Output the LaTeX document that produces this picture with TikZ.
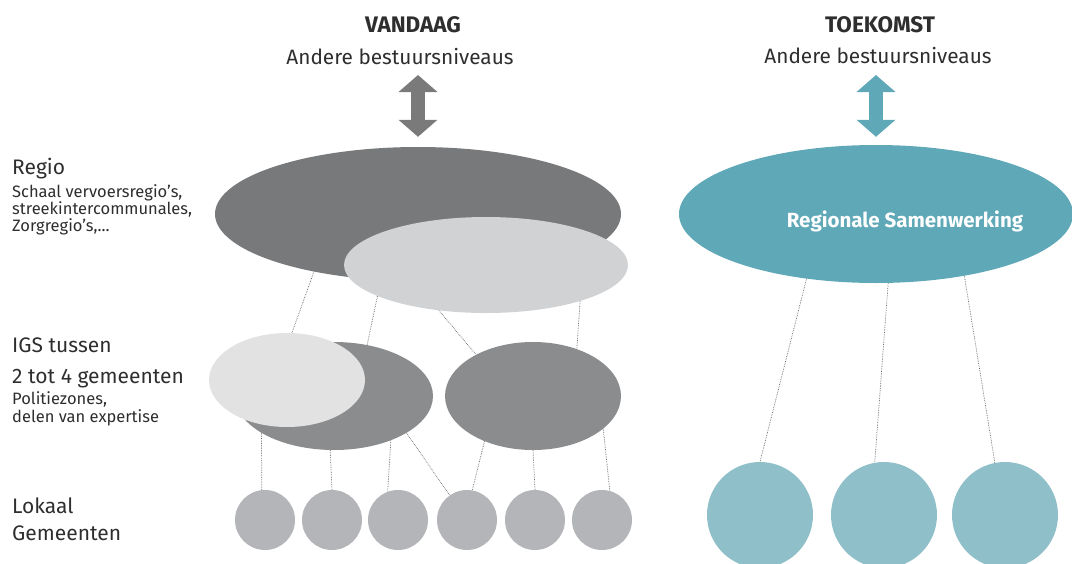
\documentclass[tikz,border=0pt]{standalone}
\usepackage{fontspec}
\setmainfont{Fira Sans}
\usepackage{tikz}
\usetikzlibrary{arrows.meta, positioning, shapes.geometric}

\definecolor{regiodark}{HTML}{77797B}
\definecolor{regiolight}{HTML}{D0D2D4}
\definecolor{igsdark}{HTML}{8A8C8E}
\definecolor{igslight}{HTML}{E2E2E2}
\definecolor{lokaalgray}{HTML}{B4B5B8}
\definecolor{tealdark}{HTML}{5FA8B7}
\definecolor{teallight}{HTML}{8FBFC9}
\definecolor{arrowgray}{HTML}{7A7A7A}
\definecolor{textgray}{HTML}{2E2E2E}

\begin{document}
\begin{tikzpicture}[
    x=1pt, y=-1pt,
    blob/.style={ellipse, inner sep=0pt, draw=none},
    dot/.style={circle, inner sep=0pt, minimum size=60pt, fill=lokaalgray},
    bigdot/.style={circle, inner sep=0pt, minimum size=106pt, fill=teallight},
    link/.style={densely dotted, line width=0.7pt, draw=black!60},
    updown/.style={line width=14pt, {Triangle[width=38pt,length=17pt]}-{Triangle[width=38pt,length=17pt]}},
    head/.style={font=\bfseries\fontsize{22.5}{26}\selectfont, text=textgray, anchor=base, inner sep=0pt},
    sub/.style={font=\fontsize{20.8}{24}\selectfont, text=textgray, anchor=base, inner sep=0pt},
    big/.style={font=\fontsize{21}{24}\selectfont, text=textgray, anchor=base west, inner sep=0pt},
    small/.style={font=\fontsize{16.5}{19}\selectfont, text=textgray, anchor=base west, inner sep=0pt}
]
\useasboundingbox (0,0) rectangle (1072,563);

% headers
\node[head] (vandaag) at (413,32) {VANDAAG};
\node[sub] (andere1) at (400,64) {Andere bestuursniveaus};
\node[head] (toekomst) at (880,32) {TOEKOMST};
\node[sub] (andere2) at (878,63) {Andere bestuursniveaus};

% left labels
\node[big] (regiolbl) at (12,174) {Regio};
\node[small] (regio1) at (12,197) {Schaal vervoersregio’s,};
\node[small] (regio2) at (12,214) {streekintercommunales,};
\node[small] (regio3) at (12,231) {Zorgregio’s,...};
\node[big] (igs1) at (12,352) {IGS tussen};
\node[big] (igs2) at (12,383) {2 tot 4 gemeenten};
\node[small] (igs3) at (12,404) {Politiezones,};
\node[small] (igs4) at (12,422) {delen van expertise};
\node[big] (lok1) at (12,513) {Lokaal};
\node[big] (lok2) at (12,540) {Gemeenten};

% vandaag
\node[blob, fill=regiodark, minimum width=406pt, minimum height=134pt] (regio) at (418,214) {};
\node[blob, fill=regiolight, minimum width=284pt, minimum height=96pt] (regiob) at (486,265) {};
\node[blob, fill=igsdark, minimum width=198pt, minimum height=108pt] (igsa) at (334,396) {};
\node[blob, fill=igslight, minimum width=156pt, minimum height=94pt] (igsb) at (287,380) {};
\node[blob, fill=igsdark, minimum width=176pt, minimum height=108pt] (igsc) at (533,396) {};
\foreach \x [count=\i] in {265,332,398,467,535,602}
    \node[dot] (gem\i) at (\x,520) {};

% toekomst
\node[blob, fill=tealdark, minimum width=394pt, minimum height=138pt] (samen) at (876,214) {};
\node[font=\bfseries\fontsize{20.5}{22}\selectfont, text=white] (samenlbl) at (905,221) {Regionale Samenwerking};
\foreach \x [count=\i] in {760,884,1005}
    \node[bigdot] (toek\i) at (\x,515) {};

% arrows
\draw[updown, arrowgray] ([yshift=-11pt]andere1.base -| regio.north) -- ([yshift=10pt]regio.north);
\draw[updown, tealdark] ([yshift=-12pt]andere2.base -| samen.north) -- ([yshift=8pt]samen.north);

% links
\draw[link] (regio.209) -- (igsb.84);
\draw[link] (regiob.196) -- (igsa.57);
\draw[link] (regiob.224) -- (igsc.144);
\draw[link] (regiob.339) -- (igsc.47);
\draw[link] (igsa.207) -- (gem1.96);
\draw[link] (igsa.266) -- (gem2.north);
\draw[link] (igsa.322) -- (gem3.110);
\draw[link] (igsa.333) -- (gem4.125);
\draw[link] (igsc.223) -- (gem4.80);
\draw[link] (igsc.south) -- (gem5.north);
\draw[link] (igsc.335) -- (gem6.75);
\draw[link] (samen.223) -- (toek1.north);
\draw[link] (samen.280) -- (toek2.100);
\draw[link] (samen.325) -- (toek3.101);

\end{tikzpicture}
\end{document}
